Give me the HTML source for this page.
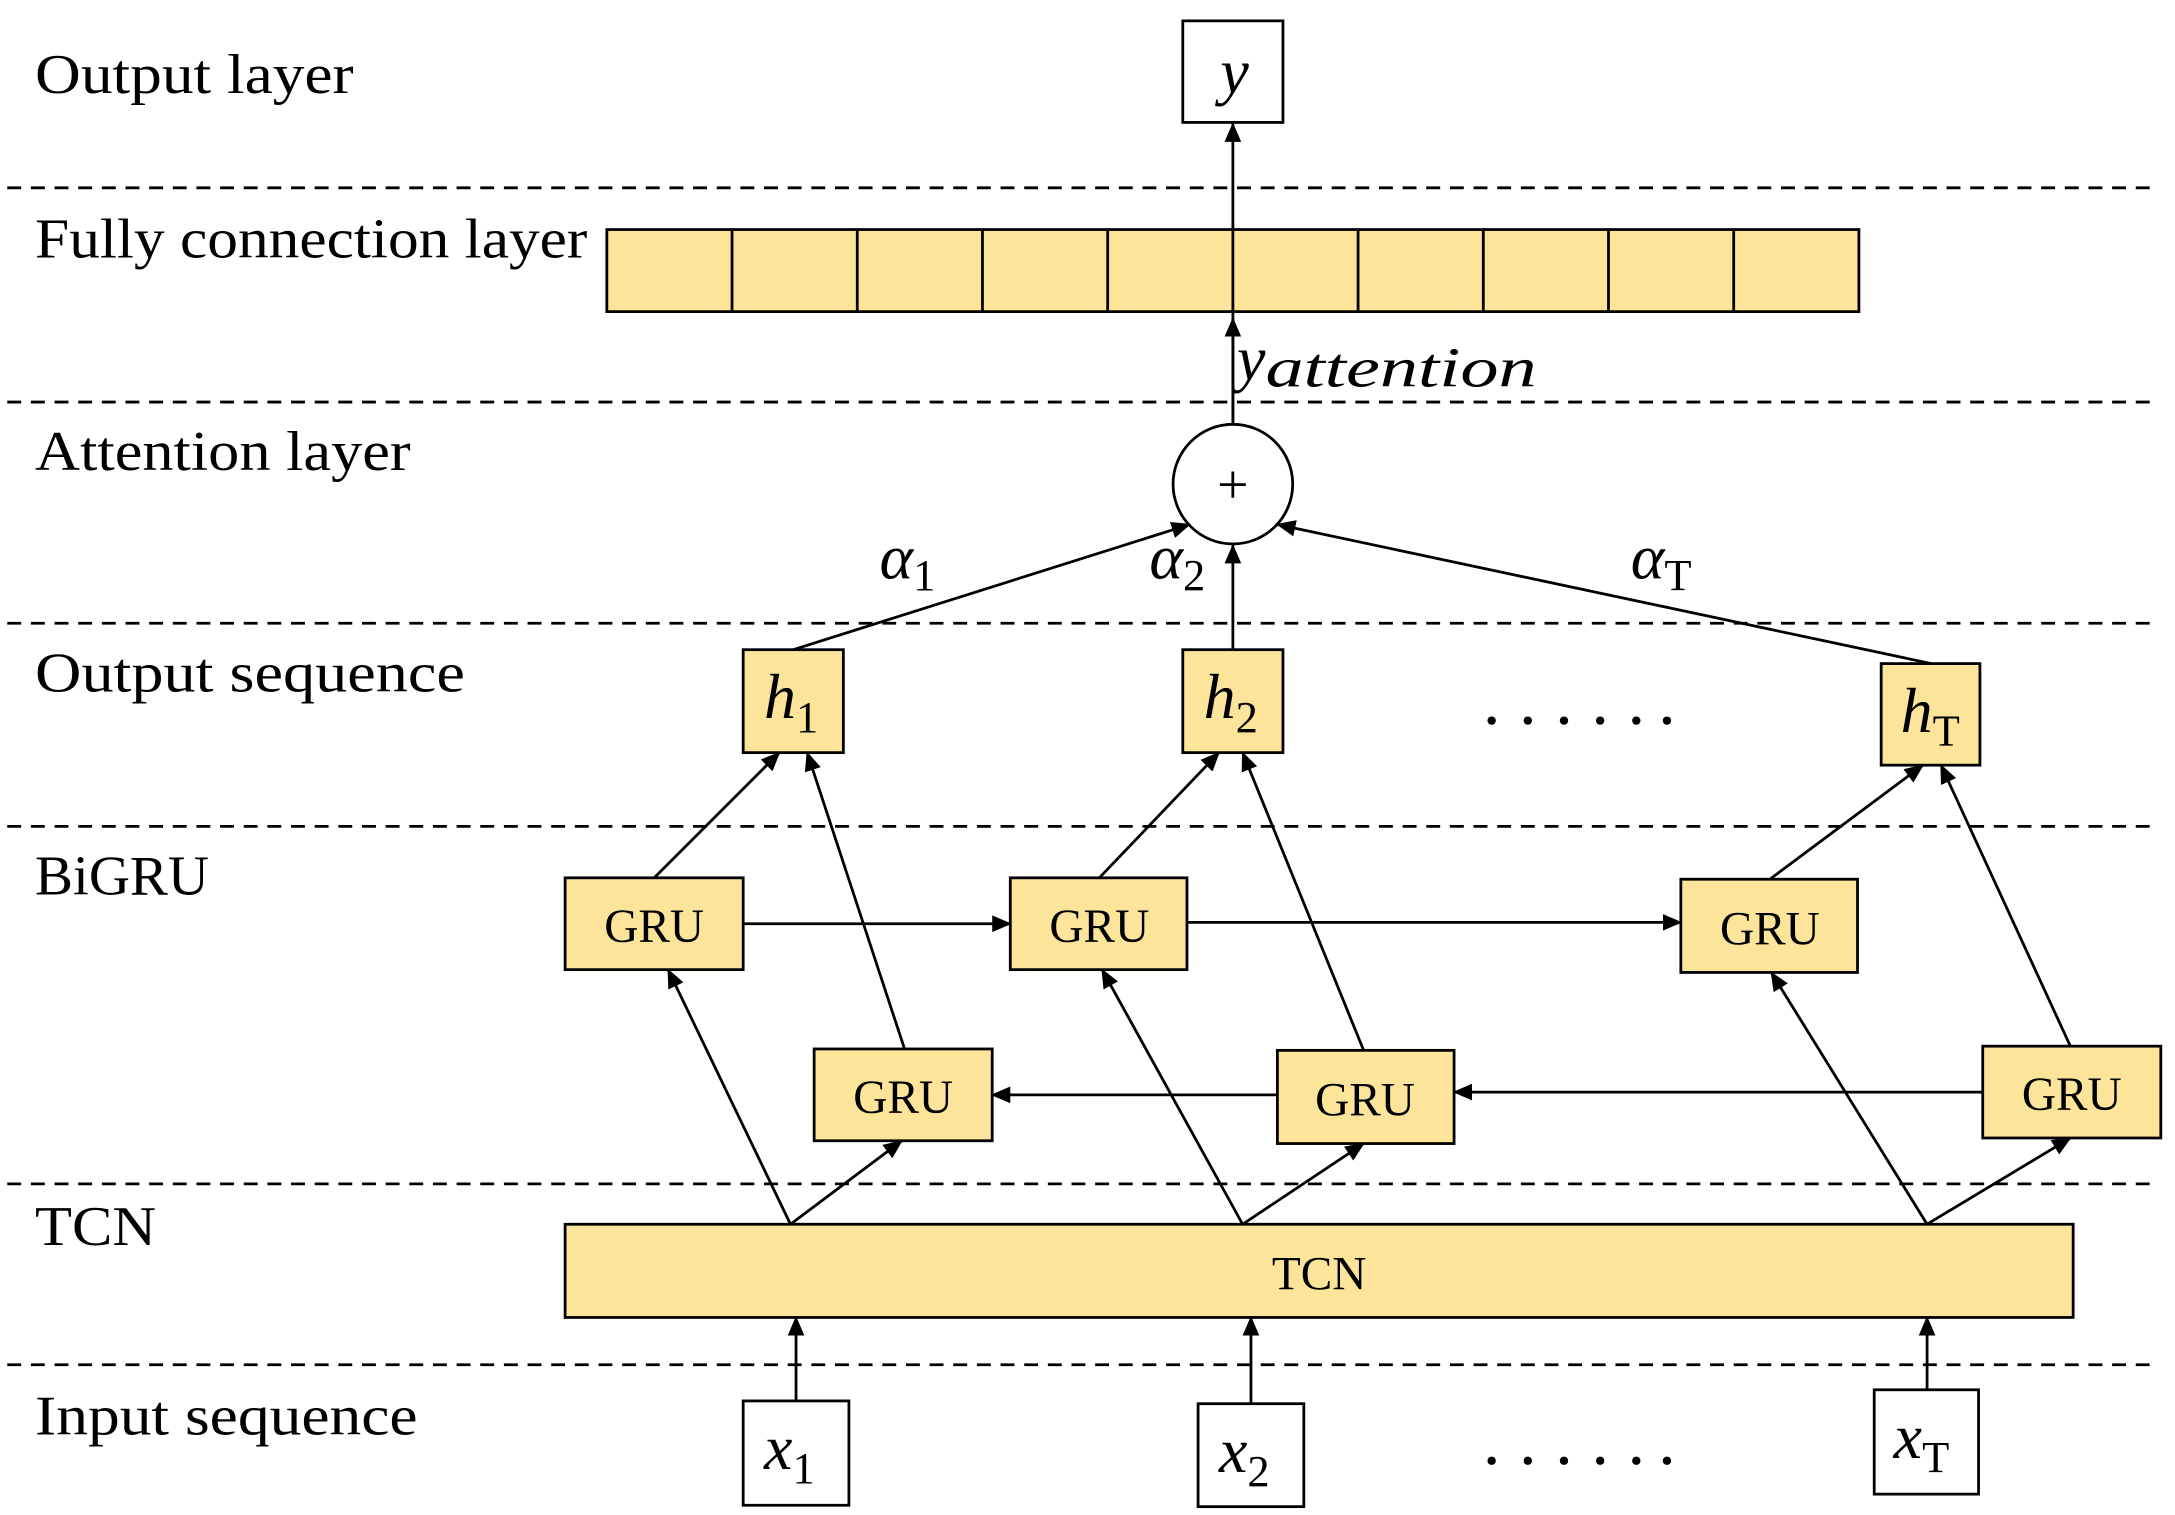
<!DOCTYPE html>
<html><head><meta charset="utf-8"><style>html,body{margin:0;padding:0;background:#fff}svg{display:block}</style></head>
<body>
<svg width="2175" height="1515" viewBox="0 0 1563 1089" xmlns="http://www.w3.org/2000/svg" font-family="Liberation Serif, serif">
<defs><marker id="a" markerWidth="14" markerHeight="12" refX="13" refY="6" orient="auto" markerUnits="userSpaceOnUse"><path d="M0,0 L14,6 L0,12 Z" fill="#000"/></marker></defs>
<g stroke="#000" stroke-width="2" stroke-dasharray="10,7">
<line x1="5" y1="135" x2="1550" y2="135"/><line x1="5" y1="289" x2="1550" y2="289"/><line x1="5" y1="448" x2="1550" y2="448"/><line x1="5" y1="594" x2="1550" y2="594"/><line x1="5" y1="851" x2="1550" y2="851"/><line x1="5" y1="981" x2="1550" y2="981"/>
</g>
<g font-size="40" fill="#000" lengthAdjust="spacingAndGlyphs">
<text x="25" y="67" textLength="229" lengthAdjust="spacingAndGlyphs">Output layer</text><text x="25" y="185" textLength="397" lengthAdjust="spacingAndGlyphs">Fully connection layer</text><text x="25" y="338" textLength="270" lengthAdjust="spacingAndGlyphs">Attention layer</text><text x="25" y="497" textLength="309" lengthAdjust="spacingAndGlyphs">Output sequence</text><text x="25" y="643" textLength="125" lengthAdjust="spacingAndGlyphs">BiGRU</text><text x="25" y="895" textLength="87" lengthAdjust="spacingAndGlyphs">TCN</text><text x="25" y="1031" textLength="275" lengthAdjust="spacingAndGlyphs">Input sequence</text>
</g>
<g stroke="#000" stroke-width="2" fill="#FDE49B">
<rect x="436" y="165" width="900" height="59"/>
<rect x="534" y="467" width="72" height="74"/><rect x="850" y="467" width="72" height="74"/><rect x="1352" y="477" width="71" height="73"/>
<rect x="406" y="631" width="128" height="66"/><rect x="726" y="631" width="127" height="66"/><rect x="1208" y="632" width="127" height="67"/>
<rect x="585" y="754" width="128" height="66"/><rect x="918" y="755" width="127" height="67"/><rect x="1425" y="752" width="128" height="66"/>
<rect x="406" y="880" width="1084" height="67"/>
</g>
<g stroke="#000" stroke-width="2"><line x1="526" y1="165" x2="526" y2="224"/><line x1="616" y1="165" x2="616" y2="224"/><line x1="706" y1="165" x2="706" y2="224"/><line x1="796" y1="165" x2="796" y2="224"/><line x1="976" y1="165" x2="976" y2="224"/><line x1="1066" y1="165" x2="1066" y2="224"/><line x1="1156" y1="165" x2="1156" y2="224"/><line x1="1246" y1="165" x2="1246" y2="224"/></g>
<g stroke="#000" stroke-width="2" fill="#fff">
<rect x="850" y="15" width="72" height="73"/>
<circle cx="886" cy="348" r="43"/>
<rect x="534" y="1007" width="76" height="75"/><rect x="861" y="1009" width="76" height="74"/><rect x="1347" y="999" width="75" height="75"/>
</g>
<g stroke="#000" stroke-width="2" fill="none" marker-end="url(#a)">
<line x1="886" y1="305" x2="886" y2="89"/><line x1="886" y1="305" x2="886" y2="229"/>
<line x1="570" y1="467" x2="855" y2="377"/><line x1="886" y1="467" x2="886" y2="392"/><line x1="1388" y1="477" x2="918" y2="377"/>
<line x1="534" y1="664" x2="726" y2="664"/><line x1="853" y1="663" x2="1208" y2="663"/>
<line x1="918" y1="787" x2="713" y2="787"/><line x1="1425" y1="785" x2="1045" y2="785"/>
<line x1="470" y1="631" x2="560" y2="541"/><line x1="790" y1="631" x2="876" y2="541"/><line x1="1272" y1="632" x2="1382" y2="550"/>
<line x1="650" y1="754" x2="580" y2="541"/><line x1="980" y1="755" x2="893" y2="541"/><line x1="1488" y1="752" x2="1395" y2="550"/>
<line x1="568" y1="880" x2="480" y2="697"/><line x1="568" y1="880" x2="648" y2="820"/>
<line x1="893" y1="880" x2="792" y2="697"/><line x1="893" y1="880" x2="980" y2="822"/>
<line x1="1385" y1="880" x2="1273" y2="699"/><line x1="1385" y1="880" x2="1488" y2="818"/>
<line x1="572" y1="1007" x2="572" y2="947"/><line x1="899" y1="1009" x2="899" y2="947"/><line x1="1385" y1="999" x2="1385" y2="947"/>
</g>
<g font-size="34" text-anchor="middle" fill="#000">
<text x="470" y="677">GRU</text><text x="790" y="677">GRU</text><text x="1272" y="679">GRU</text>
<text x="649" y="800">GRU</text><text x="981" y="802">GRU</text><text x="1489" y="798">GRU</text>
<text x="948" y="927">TCN</text>
<text x="886" y="362" font-size="40">+</text>
</g>
<g font-size="46" font-style="italic" fill="#000">
<text x="877" y="67">y</text>
<text x="889" y="273">y<tspan font-size="40" dy="5" textLength="195" lengthAdjust="spacingAndGlyphs">attention</tspan></text>
<text x="632" y="416">α<tspan font-style="normal" font-size="32" dy="8">1</tspan></text>
<text x="826" y="416">α<tspan font-style="normal" font-size="32" dy="8">2</tspan></text>
<text x="1172" y="416">α<tspan font-style="normal" font-size="32" dy="8">T</tspan></text>
<text x="549" y="516">h<tspan font-style="normal" font-size="32" dy="10">1</tspan></text>
<text x="865" y="516">h<tspan font-style="normal" font-size="32" dy="10">2</tspan></text>
<text x="1366" y="526">h<tspan font-style="normal" font-size="32" dy="10">T</tspan></text>
<text x="549" y="1056">x<tspan font-style="normal" font-size="32" dy="10">1</tspan></text>
<text x="876" y="1058">x<tspan font-style="normal" font-size="32" dy="10">2</tspan></text>
<text x="1361" y="1048">x<tspan font-style="normal" font-size="32" dy="10">T</tspan></text>
</g>
<g fill="#000"><circle cx="1072" cy="518" r="3"/><circle cx="1098" cy="518" r="3"/><circle cx="1124" cy="518" r="3"/><circle cx="1150" cy="518" r="3"/><circle cx="1176" cy="518" r="3"/><circle cx="1198" cy="518" r="3"/>
<circle cx="1072" cy="1050" r="3"/><circle cx="1098" cy="1050" r="3"/><circle cx="1124" cy="1050" r="3"/><circle cx="1150" cy="1050" r="3"/><circle cx="1176" cy="1050" r="3"/><circle cx="1198" cy="1050" r="3"/></g>
</svg>
</body></html>
